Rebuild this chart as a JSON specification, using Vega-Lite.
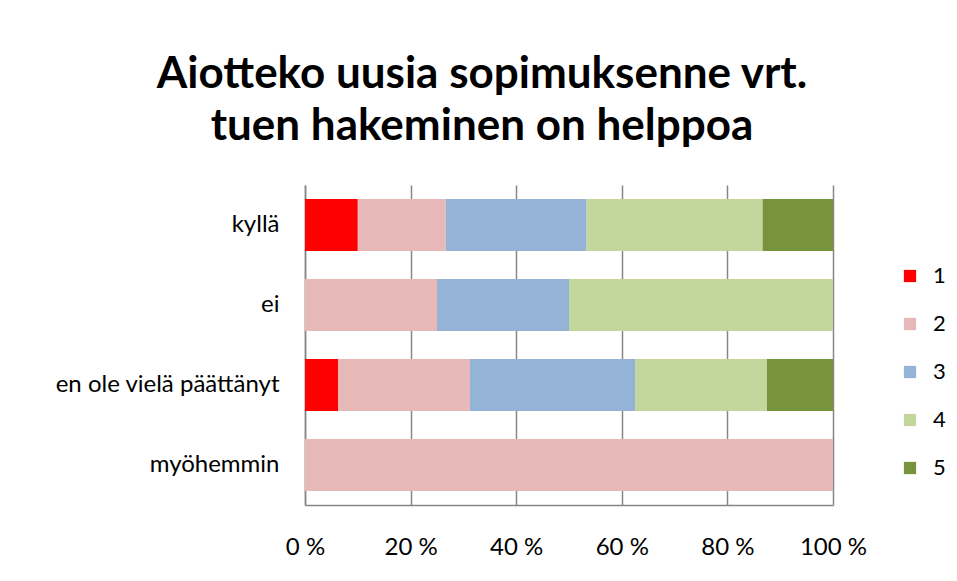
{
  "$schema": "https://vega.github.io/schema/vega-lite/v6.json",
  "width": 528,
  "height": 320,
  "autosize": {"type": "none"},
  "padding": {"left": 305, "top": 185, "right": 124, "bottom": 76},
  "background": "white",
  "title": {
    "text": ["Aiotteko uusia sopimuksenne vrt.", "tuen hakeminen on helppoa"],
    "font": "Lato",
    "fontWeight": "bold",
    "fontSize": 44,
    "lineHeight": 52,
    "color": "#000000",
    "anchor": "middle",
    "frame": "group",
    "dx": -87,
    "offset": 36
  },
  "data": {
    "values": [
      {"vastaus": "kyllä", "arvo": "1", "osuus": 10.0},
      {"vastaus": "kyllä", "arvo": "2", "osuus": 16.667},
      {"vastaus": "kyllä", "arvo": "3", "osuus": 26.667},
      {"vastaus": "kyllä", "arvo": "4", "osuus": 33.333},
      {"vastaus": "kyllä", "arvo": "5", "osuus": 13.333},
      {"vastaus": "ei", "arvo": "2", "osuus": 25.0},
      {"vastaus": "ei", "arvo": "3", "osuus": 25.0},
      {"vastaus": "ei", "arvo": "4", "osuus": 50.0},
      {"vastaus": "en ole vielä päättänyt", "arvo": "1", "osuus": 6.25},
      {"vastaus": "en ole vielä päättänyt", "arvo": "2", "osuus": 25.0},
      {"vastaus": "en ole vielä päättänyt", "arvo": "3", "osuus": 31.25},
      {"vastaus": "en ole vielä päättänyt", "arvo": "4", "osuus": 25.0},
      {"vastaus": "en ole vielä päättänyt", "arvo": "5", "osuus": 12.5},
      {"vastaus": "myöhemmin", "arvo": "2", "osuus": 100.0}
    ]
  },
  "mark": {"type": "bar"},
  "encoding": {
    "y": {
      "field": "vastaus",
      "type": "nominal",
      "sort": ["kyllä", "ei", "en ole vielä päättänyt", "myöhemmin"],
      "scale": {"paddingInner": 0.35, "paddingOuter": 0.175},
      "axis": {
        "title": null,
        "ticks": false,
        "domain": true,
        "domainColor": "#868686",
        "domainWidth": 1.5,
        "labelFont": "Lato",
        "labelFontSize": 24,
        "labelColor": "#000000",
        "labelPadding": 26,
        "labelLimit": 400
      }
    },
    "x": {
      "field": "osuus",
      "type": "quantitative",
      "stack": "zero",
      "scale": {"domain": [0, 100], "nice": false},
      "axis": {
        "title": null,
        "values": [0, 20, 40, 60, 80, 100],
        "labelExpr": "datum.value + ' %'",
        "labelFlush": false,
        "ticks": false,
        "grid": true,
        "gridColor": "#868686",
        "gridWidth": 1.5,
        "domain": true,
        "domainColor": "#868686",
        "domainWidth": 1.5,
        "labelFont": "Lato",
        "labelFontSize": 24,
        "labelColor": "#000000",
        "labelPadding": 30
      }
    },
    "color": {
      "field": "arvo",
      "type": "nominal",
      "scale": {
        "domain": ["1", "2", "3", "4", "5"],
        "range": ["#FF0000", "#E6B9B8", "#95B3D7", "#C3D69B", "#77933C"]
      },
      "legend": {
        "title": null,
        "orient": "none",
        "legendX": 594,
        "legendY": 80,
        "symbolType": "square",
        "symbolSize": 150,
        "symbolStrokeWidth": 0,
        "labelFont": "Lato",
        "labelFontSize": 22,
        "labelColor": "#000000",
        "labelOffset": 12,
        "rowPadding": 26
      }
    },
    "order": {"field": "arvo", "type": "nominal", "sort": "ascending"}
  },
  "config": {
    "view": {"stroke": null}
  }
}
